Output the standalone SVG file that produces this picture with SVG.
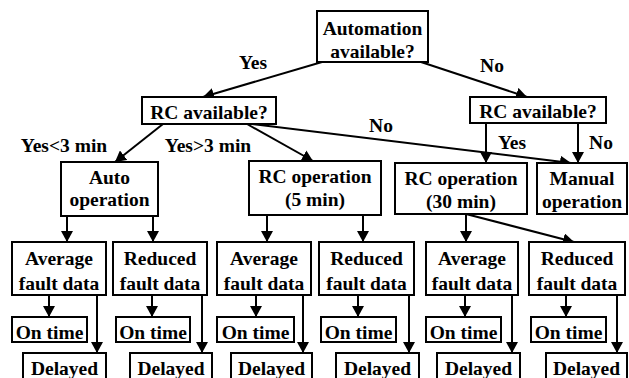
<svg xmlns="http://www.w3.org/2000/svg" width="629" height="378" viewBox="0 0 629 378">
<style>
  .box { fill: #fff; stroke: #000; stroke-width: 2; }
  .c { stroke: #000; stroke-width: 2; fill: none; marker-end: url(#ah); }
</style>
<defs>
  <marker id="ah" viewBox="0 0 11 12" refX="11" refY="6" markerWidth="11" markerHeight="12" markerUnits="userSpaceOnUse" orient="auto">
    <path d="M0,0 L11,6 L0,12 z" fill="#000"/>
  </marker>
</defs>
<rect width="629" height="378" fill="#fff"/>
<g font-family="Liberation Serif, Times New Roman, serif" font-weight="bold" font-size="19.5" text-anchor="middle" fill="#000">
<g id="connectors">
  <line class="c" x1="322" y1="62" x2="203" y2="97"/>
  <line class="c" x1="421" y1="62" x2="527" y2="97"/>
  <line class="c" x1="163" y1="124" x2="115" y2="162"/>
  <line class="c" x1="247" y1="124" x2="313" y2="161"/>
  <line class="c" x1="252" y1="124" x2="571" y2="163"/>
  <line class="c" x1="486" y1="123" x2="486" y2="163"/>
  <line class="c" x1="578" y1="123" x2="578" y2="163"/>
  <line class="c" x1="67" y1="216" x2="67" y2="242"/>
  <line class="c" x1="153" y1="216" x2="153" y2="242"/>
  <line class="c" x1="267" y1="215" x2="267" y2="242"/>
  <line class="c" x1="363" y1="215" x2="363" y2="242"/>
  <line class="c" x1="466" y1="214" x2="466" y2="242"/>
  <line class="c" x1="466" y1="214" x2="574" y2="242"/>
  <line class="c" x1="49" y1="295" x2="49" y2="317"/>
  <line class="c" x1="152" y1="295" x2="152" y2="317"/>
  <line class="c" x1="256" y1="295" x2="256" y2="317"/>
  <line class="c" x1="358" y1="295" x2="358" y2="317"/>
  <line class="c" x1="465" y1="295" x2="465" y2="317"/>
  <line class="c" x1="566" y1="295" x2="566" y2="317"/>
  <line class="c" x1="97" y1="295" x2="97" y2="353"/>
  <line class="c" x1="202" y1="295" x2="202" y2="353"/>
  <line class="c" x1="303" y1="295" x2="303" y2="353"/>
  <line class="c" x1="409" y1="295" x2="409" y2="353"/>
  <line class="c" x1="512" y1="295" x2="512" y2="353"/>
  <line class="c" x1="617" y1="295" x2="617" y2="353"/>
  <text x="253" y="69">Yes</text>
  <text x="492" y="72">No</text>
  <text x="381" y="132">No</text>
  <text x="64" y="152">Yes&lt;3 min</text>
  <text x="208" y="152">Yes&gt;3 min</text>
  <text x="512" y="149">Yes</text>
  <text x="601" y="149">No</text>
</g>

<g id="automation">
  <rect class="box" x="317" y="11" width="111" height="51"/>
  <text x="372.5" y="35">Automation</text>
  <text x="372.5" y="58">available?</text>
</g>
<g id="rc-left">
  <rect class="box" x="142" y="97" width="134" height="27"/>
  <text x="209" y="119">RC available?</text>
</g>
<g id="rc-right">
  <rect class="box" x="470" y="97" width="136" height="26"/>
  <text x="538" y="118">RC available?</text>
</g>
<g id="auto-op">
  <rect class="box" x="61" y="162" width="97" height="54"/>
  <text x="109.5" y="184">Auto</text>
  <text x="109.5" y="206">operation</text>
</g>
<g id="rc-op-5">
  <rect class="box" x="249" y="161" width="132" height="54"/>
  <text x="315" y="183">RC operation</text>
  <text x="315" y="206">(5 min)</text>
</g>
<g id="rc-op-30">
  <rect class="box" x="395" y="163" width="132" height="51"/>
  <text x="461" y="185">RC operation</text>
  <text x="461" y="208">(30 min)</text>
</g>
<g id="manual-op">
  <rect class="box" x="537" y="163" width="90" height="51"/>
  <text x="582" y="185">Manual</text>
  <text x="582" y="208">operation</text>
</g>

<g id="avg-1">
  <rect class="box" x="12" y="242" width="94" height="53"/>
  <text x="59" y="265">Average</text>
  <text x="59" y="290">fault data</text>
</g>
<g id="red-1">
  <rect class="box" x="113" y="242" width="94" height="53"/>
  <text x="160" y="265">Reduced</text>
  <text x="160" y="290">fault data</text>
</g>
<g id="avg-2">
  <rect class="box" x="217" y="242" width="94" height="53"/>
  <text x="264" y="265">Average</text>
  <text x="264" y="290">fault data</text>
</g>
<g id="red-2">
  <rect class="box" x="319" y="242" width="95" height="53"/>
  <text x="366.5" y="265">Reduced</text>
  <text x="366.5" y="290">fault data</text>
</g>
<g id="avg-3">
  <rect class="box" x="426" y="242" width="92" height="53"/>
  <text x="472" y="265">Average</text>
  <text x="472" y="290">fault data</text>
</g>
<g id="red-3">
  <rect class="box" x="529" y="242" width="96" height="53"/>
  <text x="577" y="265">Reduced</text>
  <text x="577" y="290">fault data</text>
</g>

<g id="ontime-1"><rect class="box" x="12" y="317" width="75" height="25"/><text x="49.5" y="339">On time</text></g>
<g id="ontime-2"><rect class="box" x="116" y="317" width="74" height="25"/><text x="153" y="339">On time</text></g>
<g id="ontime-3"><rect class="box" x="217" y="317" width="77" height="25"/><text x="255.5" y="339">On time</text></g>
<g id="ontime-4"><rect class="box" x="321" y="317" width="75" height="25"/><text x="358.5" y="339">On time</text></g>
<g id="ontime-5"><rect class="box" x="426" y="317" width="75" height="25"/><text x="463.5" y="339">On time</text></g>
<g id="ontime-6"><rect class="box" x="531" y="317" width="75" height="25"/><text x="568.5" y="339">On time</text></g>

<g id="delayed-1"><rect class="box" x="23" y="353" width="83" height="34"/><text x="64.5" y="375">Delayed</text></g>
<g id="delayed-2"><rect class="box" x="130" y="353" width="82" height="34"/><text x="171" y="375">Delayed</text></g>
<g id="delayed-3"><rect class="box" x="231" y="353" width="81" height="34"/><text x="271.5" y="375">Delayed</text></g>
<g id="delayed-4"><rect class="box" x="336" y="353" width="83" height="34"/><text x="377.5" y="375">Delayed</text></g>
<g id="delayed-5"><rect class="box" x="437" y="353" width="83" height="34"/><text x="478.5" y="375">Delayed</text></g>
<g id="delayed-6"><rect class="box" x="546" y="353" width="81" height="34"/><text x="586.5" y="375">Delayed</text></g>
</g>
</svg>
